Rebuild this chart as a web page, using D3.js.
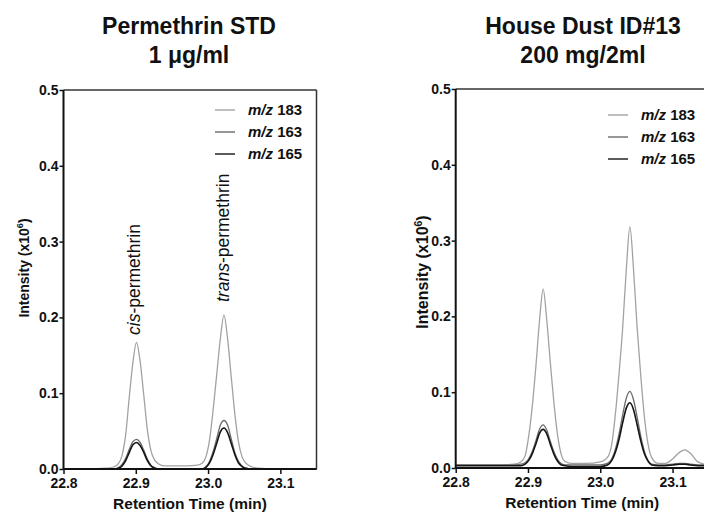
<!DOCTYPE html>
<html>
<head>
<meta charset="utf-8">
<script src="https://cdn.jsdelivr.net/npm/d3@7"></script>
<style>
  body { margin: 0; background: #fff; }
  svg text { font-family: "Liberation Sans", Arial, sans-serif; fill: #111; }
</style>
</head>
<body>
<div id="chart"></div>
<script>
// ---- data ----
var ionLabels = ["183", "163", "165"]
var ionColors = ["#a2a2a2", "#6a6a6a", "#151515"]
var yTicks = [0, 0.1, 0.2, 0.3, 0.4, 0.5]
var xTicks = [22.8, 22.9, 23.0, 23.1]

// left: Permethrin STD 1 ug/ml
var timeL = [22.800, 22.830, 22.860, 22.870, 22.876, 22.881, 22.886, 22.891, 22.896, 22.901,
             22.906, 22.911, 22.916, 22.921, 22.926, 22.931, 22.940, 22.950, 22.970, 22.985,
             22.992, 22.997, 23.002, 23.007, 23.012, 23.017, 23.022, 23.027, 23.032, 23.037,
             23.042, 23.047, 23.052, 23.060, 23.070, 23.090, 23.120, 23.150]
var mz183L = [0, 0, .001, .003, .007, .018, .045, .095, .140, .167,
              .142, .098, .052, .024, .012, .007, .004, .004, .004, .005,
              .008, .016, .038, .078, .125, .172, .203, .172, .122, .073,
              .036, .016, .008, .003, .001, 0, 0, 0]
var mz163L = [0, 0, 0, 0, .002, .006, .014, .026, .036, .039,
              .035, .025, .013, .005, .002, 0, 0, 0, 0, 0,
              0, .003, .010, .023, .040, .058, .064, .058, .040, .022,
              .010, .004, .001, 0, 0, 0, 0, 0]
var mz165L = [0, 0, 0, 0, .001, .004, .011, .022, .032, .035,
              .031, .022, .011, .004, .001, 0, 0, 0, 0, 0,
              0, .002, .008, .019, .034, .049, .054, .048, .034, .019,
              .008, .003, .001, 0, 0, 0, 0, 0]

// right: House Dust ID#13 200 mg/2ml
var timeR = [22.800, 22.830, 22.860, 22.880, 22.890, 22.896, 22.901, 22.906, 22.911, 22.916,
             22.921, 22.926, 22.931, 22.936, 22.941, 22.946, 22.951, 22.960, 22.980, 23.000,
             23.010, 23.016, 23.021, 23.026, 23.031, 23.036, 23.041, 23.046, 23.051, 23.056,
             23.061, 23.066, 23.071, 23.080, 23.090, 23.100, 23.110, 23.117, 23.125, 23.135, 23.150]
var mz183R = [.004, .004, .004, .005, .008, .016, .042, .082, .135, .195,
              .236, .195, .138, .085, .043, .018, .009, .006, .006, .008,
              .014, .032, .072, .125, .185, .262, .318, .262, .185, .122,
              .068, .032, .014, .006, .006, .012, .021, .024, .019, .008, .004]
var mz163R = [.004, .004, .004, .004, .005, .007, .012, .022, .036, .051,
              .057, .050, .035, .021, .011, .006, .004, .004, .004, .004,
              .006, .012, .025, .045, .070, .092, .101, .090, .067, .042,
              .022, .010, .005, .004, .004, .005, .006, .006, .005, .004, .004]
var mz165R = [.003, .003, .003, .003, .003, .005, .010, .019, .032, .046,
              .051, .045, .031, .018, .009, .004, .003, .002, .002, .002,
              .004, .010, .021, .038, .060, .079, .086, .077, .057, .036,
              .019, .009, .004, .003, .003, .004, .005, .005, .004, .003, .003]

var W = 704, H = 515
var font = '"Liberation Sans", Arial, sans-serif'

var svg = d3.select("#chart").append("svg")
  .attr("width", W)
  .attr("height", H)

// one chromatogram panel
function drawPanel(p){
  var x = d3.scaleLinear().domain([22.8, 23.15]).range([p.left, p.left + 253])
  var y = d3.scaleLinear().domain([0, 0.5]).range([p.bottom, p.top])
  var g = svg.append("g")

  // title, two lines
  p.title.forEach(function(t, i){
    g.append("text")
      .attr("x", p.titleX)
      .attr("y", 34 + i*29)
      .attr("text-anchor", "middle")
      .style("font-size", "23px")
      .style("font-weight", "bold")
      .text(t)
  })

  // frame top and right
  g.append("line")
    .attr("x1", p.left).attr("x2", x(23.15))
    .attr("y1", p.top).attr("y2", p.top)
    .style("stroke", "#333").style("stroke-width", 1.5)
  g.append("line")
    .attr("x1", x(23.15)).attr("x2", x(23.15))
    .attr("y1", p.top).attr("y2", p.bottom)
    .style("stroke", "#333").style("stroke-width", 1.5)

  // curves
  var series = [p.s183, p.s163, p.s165]
  var line = d3.line()
    .x(function(d){ return x(d[0]) })
    .y(function(d){ return y(d[1]) })
    .curve(d3.curveMonotoneX)
  series.forEach(function(vals, k){
    var pts = p.time.map(function(t, i){ return [t, vals[i]] })
    g.append("path")
      .datum(pts)
      .attr("d", line)
      .style("fill", "none")
      .style("stroke", ionColors[k])
      .style("stroke-width", k == 2 ? 1.6 : 1.3)
  })

  // axes
  var ya = g.append("g")
    .attr("transform", `translate(${p.left},0)`)
    .call(d3.axisLeft(y).tickValues(yTicks).tickFormat(d3.format(".1f")).tickSize(4).tickSizeOuter(0).tickPadding(1))
  var xa = g.append("g")
    .attr("transform", `translate(0,${p.bottom})`)
    .call(d3.axisBottom(x).tickValues(xTicks).tickFormat(d3.format(".1f")).tickSize(5).tickSizeOuter(0).tickPadding(4))
  ;[ya, xa].forEach(function(a){
    a.select(".domain").style("stroke", "#111").style("stroke-width", 2)
    a.selectAll(".tick line").style("stroke", "#111").style("stroke-width", 1.5)
    a.selectAll(".tick text")
      .style("font-family", font)
      .style("font-size", "14px")
      .style("font-weight", "bold")
      .style("fill", "#111")
  })
  ya.select(".domain").attr("d", `M0,${p.bottom}V${p.top}`)
  xa.select(".domain").attr("d", `M${p.left},0H${x(23.15)}`)

  // axis titles
  g.append("text")
    .attr("x", (p.left + x(23.15))/2)
    .attr("y", p.bottom + 40)
    .attr("text-anchor", "middle")
    .style("font-size", "15.5px")
    .style("font-weight", "bold")
    .text("Retention Time (min)")

  var yt = g.append("text")
    .attr("transform", `translate(${p.yTitleX},${p.yTitleY}) rotate(-90)`)
    .attr("text-anchor", "middle")
    .style("font-size", p.yTitleSize + "px")
    .style("font-weight", "bold")
  yt.append("tspan").text("Intensity  (x10")
  yt.append("tspan").attr("dy", -p.yTitleSize*0.4).style("font-size", (p.yTitleSize*0.65) + "px").text("6")
  yt.append("tspan").attr("dy", p.yTitleSize*0.4).text(")")

  // legend
  ionLabels.forEach(function(lab, k){
    var ly = p.legY + k*22
    g.append("line")
      .attr("x1", p.legX).attr("x2", p.legX + 20)
      .attr("y1", ly).attr("y2", ly)
      .style("stroke", ionColors[k]).style("stroke-width", 1.4)
    var t = g.append("text")
      .attr("x", p.legX + 33)
      .attr("y", ly + 5)
      .style("font-size", "15px")
      .style("font-weight", "bold")
    t.append("tspan").style("font-style", "italic").text("m/z")
    t.append("tspan").text(" " + lab)
  })

  return {x: x, y: y, g: g}
}

var left = drawPanel({
  left: 63.5, top: 90, bottom: 469, titleX: 189,
  title: ["Permethrin STD", "1 \u03bcg/ml"],
  time: timeL, s183: mz183L, s163: mz163L, s165: mz165L,
  yTitleX: 29, yTitleY: 268, yTitleSize: 14,
  legX: 215, legY: 110
})
var right = drawPanel({
  left: 455.7, top: 89, bottom: 468, titleX: 583,
  title: ["House Dust ID#13", "200 mg/2ml"],
  time: timeR, s183: mz183R, s163: mz163R, s165: mz165R,
  yTitleX: 428, yTitleY: 272, yTitleSize: 16,
  legX: 608, legY: 115
})

// peak names on the standard
function peakLabel(xb, ystart, italicPart, rest){
  var lab = left.g.append("text")
    .attr("transform", `translate(${xb},${ystart}) rotate(-90)`)
    .style("font-size", "17.5px")
  lab.append("tspan").style("font-style", "italic").text(italicPart)
  lab.append("tspan").text(rest)
}
peakLabel(140, 335, "cis", "-permethrin")
peakLabel(229, 302, "trans", "-permethrin")
</script>
</body>
</html>
